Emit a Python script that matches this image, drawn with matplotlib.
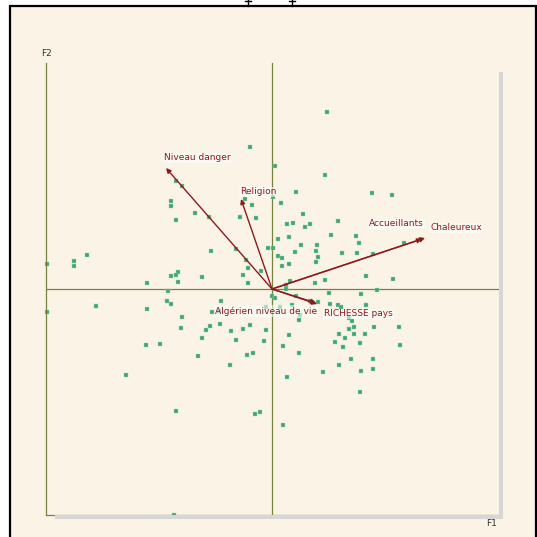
import matplotlib
matplotlib.use('Agg')
from matplotlib import pyplot as plt
from matplotlib.patches import Rectangle
from matplotlib.lines import Line2D

# observations (factor scores on F1 / F2)
obs_f1 = [-0.45, 0.06, -1.93, -1.80, -2.02, -2.02, -1.54, -0.54, -0.41, -1.93,
          -1.27, -0.65, -0.32, -3.70, -1.23, -0.72, -0.09, 0.02, 0.11, -4.49,
          -3.97, -3.97, -0.53, -0.48, -0.59, -0.23, -2.02, -1.88, -1.92, -1.88,
          -1.41, -2.51, -0.48, -2.09, 0.00, 0.06, 0.01, 1.10, 1.06, 0.48,
          1.99, 2.39, 0.18, 0.61, 0.29, 0.41, 0.75, 0.66, 1.31, 0.11,
          0.34, 1.18, 1.67, 1.74, 0.57, 0.90, 2.63, 0.45, 0.88, 1.40,
          1.69, 2.01, 0.20, 0.92, 0.20, 0.34, 0.88, 1.88, 2.42, 0.36,
          0.85, 1.06, 0.28, 0.28, 0.47, 1.13, 1.78, 2.10, -1.02, -2.11,
          -2.03, -2.50, -1.21, -1.07, -1.80, -1.05, -1.82, -1.25, -1.32, -0.82,
          -1.41, -0.72, -2.52, -2.25, -1.48, -0.84, -1.93, -3.52, -4.49, -0.45,
          -0.59, -0.12, -0.16, -0.50, -0.39, -2.93, -0.35, -0.25, -1.97, 0.76,
          0.92, 1.15, 1.31, 1.38, 0.40, 0.56, 0.54, -0.13, 0.15, 1.88,
          1.54, 1.59, 2.04, 2.54, 1.54, 1.63, 0.34, 1.34, 1.45, 1.63,
          1.85, 1.25, 1.76, 0.21, 1.42, 2.56, 0.54, 1.58, 2.01, 1.33,
          2.01, 1.02, 1.78, 0.29, 1.76, 0.22]
obs_f2 = [2.84, 2.46, 2.16, 2.06, 1.77, 1.67, 1.53, 1.80, 1.69, 1.39,
          1.44, 1.44, 1.43, 0.69, 0.76, 0.80, 0.82, 0.83, 0.67, 0.51,
          0.56, 0.47, 0.58, 0.42, 0.29, 0.37, 0.26, 0.35, 0.28, 0.15,
          0.24, 0.13, 0.12, -0.03, -0.13, -0.17, 1.84, 3.55, 2.28, 1.94,
          1.92, 1.89, 1.73, 1.51, 1.31, 1.33, 1.31, 1.24, 1.37, 1.01,
          1.05, 1.08, 1.07, 0.92, 0.89, 0.89, 0.93, 0.74, 0.76, 0.73,
          0.73, 0.71, 0.62, 0.64, 0.47, 0.51, 0.54, 0.26, 0.21, 0.17,
          0.12, 0.18, 0.08, 0.01, -0.13, -0.08, -0.10, -0.01, -0.24, -0.24,
          -0.30, -0.40, -0.46, -0.44, -0.56, -0.69, -0.78, -0.74, -0.81, -0.83,
          -0.97, -1.01, -1.12, -1.10, -1.33, -1.51, -2.44, -0.33, -0.45, -0.71,
          -0.79, -0.81, -1.03, -1.31, -1.28, -1.71, -2.50, -2.46, -4.51, -0.23,
          -0.26, -0.29, -0.31, -0.35, -0.31, -0.52, -0.62, -0.36, -0.36, -0.31,
          -0.58, -0.64, -0.76, -0.75, -0.80, -0.76, -0.92, -0.90, -0.97, -0.90,
          -0.90, -1.05, -1.08, -1.14, -1.15, -1.12, -1.28, -1.39, -1.39, -1.51,
          -1.59, -1.66, -1.64, -1.76, -2.05, -2.71]

# variables (arrows)
var_names = ['Niveau danger', 'Religion', 'Accueillants', 'Chaleureux',
             'Algérien niveau de vie', 'RICHESSE pays']
var_f1 = [-2.12, -0.62, 3.00, 3.06, 0.88, 0.90]
var_f2 = [2.42, 1.80, 1.00, 1.02, -0.28, -0.30]

W = 537
CREAM = '#faf3e6'
OLIVE = '#74843f'
RED = '#8e1b1b'


def fx(px):
    return px / W


def fy(py):
    return 1 - py / W


fig = plt.figure(figsize=(5.37, 5.37), dpi=100)
fig.patch.set_facecolor('white')

# outer frame
fig.add_artist(Rectangle((fx(10), fy(540)), fx(536) - fx(10), fy(6) - fy(540),
                         transform=fig.transFigure, facecolor=CREAM,
                         edgecolor='black', lw=1.6, zorder=0))
for px in (248, 292):
    fig.add_artist(Line2D([fx(px), fx(px)], [fy(0), fy(6)],
                          transform=fig.transFigure, color='black', lw=1))
    fig.add_artist(Line2D([fx(px - 3), fx(px + 3)], [fy(1), fy(1)],
                          transform=fig.transFigure, color='black', lw=1))

# plot box shadow
fig.add_artist(Rectangle((fx(499), fy(519)), fx(4), fy(72) - fy(519),
                         transform=fig.transFigure, facecolor='#d6d6d6',
                         edgecolor='none', zorder=0.5))
fig.add_artist(Rectangle((fx(55), fy(519)), fx(448), fy(515) - fy(519),
                         transform=fig.transFigure, facecolor='#d6d6d6',
                         edgecolor='none', zorder=0.5))

ax = fig.add_axes([fx(46), fy(515), fx(453), fy(63) - fy(515)])
ax.set_facecolor(CREAM)
ax.set_xlim(-4.52, 4.54)
ax.set_ylim(-4.52, 4.52)
for s in ('top', 'right'):
    ax.spines[s].set_visible(False)
for s in ('left', 'bottom'):
    ax.spines[s].set_color(OLIVE)
    ax.spines[s].set_linewidth(0.9)
ax.set_xticks([])
ax.set_yticks([])
ax.axhline(0, color=OLIVE, lw=0.9, zorder=1)
ax.axvline(0, color=OLIVE, lw=0.9, zorder=1)

ax.scatter(obs_f1, obs_f2, marker='s', s=7, color='#3ea672',
           edgecolors='#9fd4b6', linewidths=0.3, zorder=2, clip_on=False)

for x, y in zip(var_f1, var_f2):
    ax.annotate('', xy=(x, y), xytext=(0, 0),
                arrowprops=dict(arrowstyle='-|>', color=RED, lw=1.0,
                                mutation_scale=7, shrinkA=0, shrinkB=0),
                zorder=3)

# label offsets in pixels, alignment
offsets = [(-2, 10, 'left'), (-1, 7, 'left'), (2, 15, 'right'),
           (5, 10, 'left'), (1, -8, 'right'), (7, -10, 'left')]
for name, x, y, (dx, dy, ha) in zip(var_names, var_f1, var_f2, offsets):
    ax.annotate(name, xy=(x, y), xytext=(dx, dy), textcoords='offset pixels',
                ha=ha, va='center', fontsize=6.5, color=RED, zorder=4,
                bbox=dict(boxstyle='square,pad=0.1', facecolor='white',
                          alpha=0.55, edgecolor='none'))

fig.text(fx(46), fy(54), 'F2', ha='center', va='center', fontsize=6.5,
         color='#333333')
fig.text(fx(492), fy(523), 'F1', ha='center', va='center', fontsize=6.5,
         color='#333333')

fig.savefig('out.png', dpi=100)
